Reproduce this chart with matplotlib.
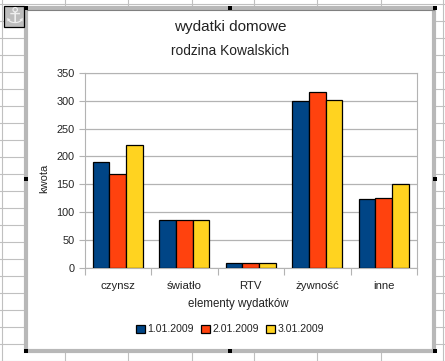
import matplotlib
matplotlib.use("Agg")
import matplotlib.pyplot as plt
from matplotlib.patches import Rectangle
import numpy as np

plt.rcParams['font.family'] = ['Liberation Sans', 'DejaVu Sans']

categories = ["czynsz", "światło", "RTV", "żywność", "inne"]
series_names = ["1.01.2009", "2.01.2009", "3.01.2009"]
values_1 = [190, 85, 8, 300, 123]
values_2 = [168, 85, 8, 315, 125]
values_3 = [220, 85, 8, 302, 150]
y_ticks = [0, 50, 100, 150, 200, 250, 300, 350]
colors = ["#004586", "#ff420e", "#ffd320"]

W, H = 445, 361
TXT = "#222222"
fig = plt.figure(figsize=(W / 100, H / 100), dpi=100, facecolor="white")

# sheet background and chart frame, in pixel coordinates
bg = fig.add_axes([0, 0, 1, 1], zorder=0)
bg.set_xlim(0, W)
bg.set_ylim(H, 0)
bg.axis("off")
for x in [2, 65, 128, 192, 254, 317, 381, 443]:
    bg.plot([x, x], [0, H], color="#c0c0c0", lw=0.8)
for y in range(4, H + 1, 17):
    bg.plot([0, W], [y, y], color="#c0c0c0", lw=0.8)
bg.add_patch(Rectangle((26, 8), 408, 343, fc="white", ec="#b8b8b8", lw=3, zorder=3))
bg.plot([27, 434], [10, 10], color="#808080", lw=0.8, zorder=4)
for hx in [26, 230, 435]:
    for hy in [8, 179, 351]:
        if hx == 230 and hy == 179:
            continue
        bg.add_patch(Rectangle((hx - 2, hy - 2), 4, 4, fc="black", ec="none", zorder=5))
bg.add_patch(Rectangle((4, 6), 20, 21, fc="#bdbdbd", ec="black", lw=0.9, zorder=5))
bg.text(14.5, 16.5, "⚓", fontsize=16, color="#eeeeee", ha="center", va="center",
        family="DejaVu Sans", zorder=6)

# chart
left, right, top, bottom = 84.5, 417, 73, 267.5
ax = fig.add_axes([left / W, 1 - bottom / H, (right - left) / W, (bottom - top) / H], zorder=2)
ax.patch.set_alpha(0)
x = np.arange(len(categories))
bw = 0.25
for i, vals in enumerate([values_1, values_2, values_3]):
    ax.bar(x + (i - 1) * bw, vals, bw, color=colors[i], edgecolor="black", lw=0.9,
           label=series_names[i], zorder=3)
ax.set_xlim(-0.5, 4.5)
ax.set_ylim(0, 350)
ax.set_yticks(y_ticks)
ax.set_xticks(np.arange(-0.5, 5, 1))
ax.set_xticklabels([])
ax.set_xticks(x, categories, minor=True)
ax.tick_params(axis="x", which="minor", length=0, pad=9.5, labelsize=8.2, colors=TXT)
ax.tick_params(axis="x", which="major", length=5, color="#b3b3b3", width=0.8, direction="out")
ax.tick_params(axis="y", length=4, color="#b3b3b3", width=0.8, labelsize=7.8, pad=3, colors=TXT)
ax.tick_params(axis="y", color="#b3b3b3")
ax.grid(axis="y", color="#b3b3b3", lw=0.9, zorder=0)
for s in ax.spines.values():
    s.set_color("#b3b3b3")
    s.set_linewidth(0.8)

bg.text(230, 27, "wydatki domowe", fontsize=11, ha="center", va="center", color=TXT, zorder=6)
bg.text(230, 51, "rodzina Kowalskich", fontsize=9.9, ha="center", va="center", color=TXT, zorder=6)
bg.text(44, 178, "kwota", fontsize=8, rotation=90, ha="center", va="center", color=TXT, zorder=6)
bg.text(238, 304, "elementy wydatków", fontsize=8.3, ha="center", va="center", color=TXT, zorder=6)

ax.legend(loc="center", bbox_to_anchor=((230 - left) / (right - left), 1 - (329.5 - top) / (bottom - top)),
          ncol=3, frameon=False, fontsize=7.6, handlelength=0.85, handleheight=0.85,
          handletextpad=0.2, columnspacing=0.7, borderpad=0, labelcolor=TXT)

fig.savefig("out.png", dpi=100, facecolor="white")
